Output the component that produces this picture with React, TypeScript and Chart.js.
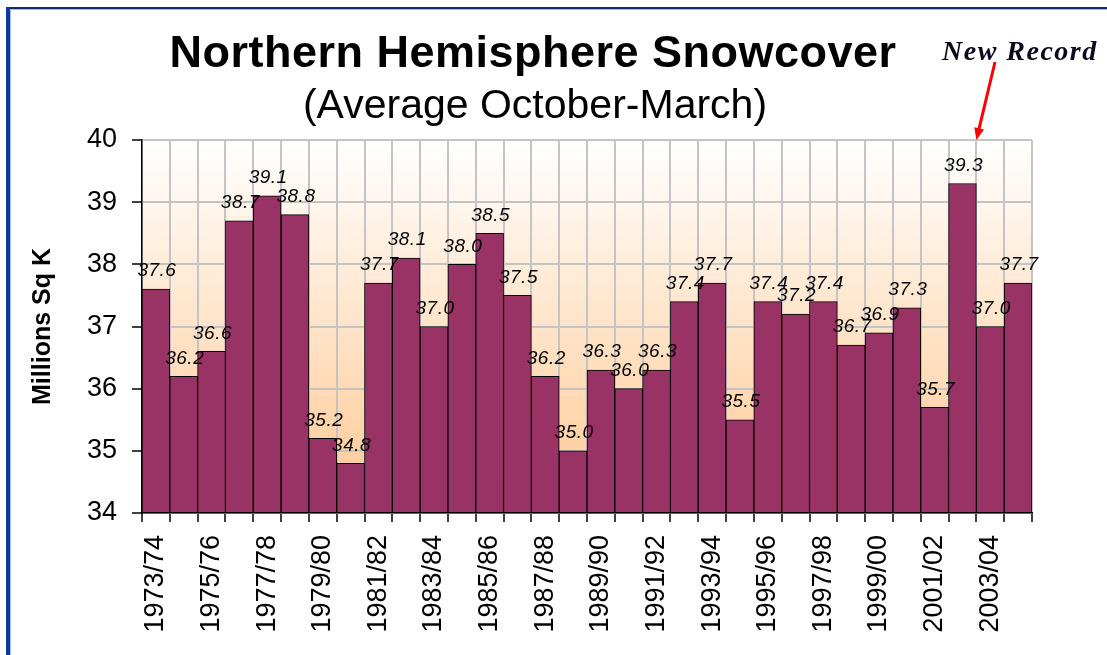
import React, { useEffect, useRef } from 'react';
import { Chart, registerables } from 'chart.js';

Chart.register(...registerables);

const seasons = [
  '1973/74', '1974/75', '1975/76', '1976/77', '1977/78', '1978/79', '1979/80', '1980/81',
  '1981/82', '1982/83', '1983/84', '1984/85', '1985/86', '1986/87', '1987/88', '1988/89',
  '1989/90', '1990/91', '1991/92', '1992/93', '1993/94', '1994/95', '1995/96', '1996/97',
  '1997/98', '1998/99', '1999/00', '2000/01', '2001/02', '2002/03', '2003/04', '2004/05',
];

const snowCover = [
  37.6, 36.2, 36.6, 38.7, 39.1, 38.8, 35.2, 34.8,
  37.7, 38.1, 37.0, 38.0, 38.5, 37.5, 36.2, 35.0,
  36.3, 36.0, 36.3, 37.4, 37.7, 35.5, 37.4, 37.2,
  37.4, 36.7, 36.9, 37.3, 35.7, 39.3, 37.0, 37.7,
];

const yMin = 34;
const yMax = 40;
const yStep = 1;

const titleText = 'Northern Hemisphere Snowcover';
const subtitleText = '(Average October-March)';
const yTitleText = 'Millions Sq K';
const noteText = 'New Record';
const recordIndex = 29;

const SANS = '"Liberation Sans", Arial, Helvetica, sans-serif';
const SERIF = '"Liberation Serif", "Times New Roman", serif';

const W = 1107;
const H = 655;

const decorPlugin = {
  id: 'decor',
  beforeDraw(chart: any) {
    const { ctx, chartArea } = chart;
    const { left, top, right, bottom } = chartArea;
    ctx.save();
    ctx.fillStyle = '#ffffff';
    ctx.fillRect(0, 0, W, H);
    const g = ctx.createLinearGradient(0, top, 0, bottom);
    g.addColorStop(0, '#ffffff');
    g.addColorStop(1, '#ffc891');
    ctx.fillStyle = g;
    ctx.fillRect(left, top, right - left, bottom - top);
    ctx.restore();
  },
  afterDatasetsDraw(chart: any) {
    const { ctx } = chart;
    const meta = chart.getDatasetMeta(0);
    ctx.save();
    ctx.fillStyle = '#000';
    ctx.font = `italic 19px ${SANS}`;
    (ctx as any).letterSpacing = '0.5px';
    ctx.textAlign = 'center';
    ctx.textBaseline = 'middle';
    meta.data.forEach((bar: any, i: number) => {
      const { x, y } = bar.getProps(['x', 'y'], true);
      ctx.fillText(snowCover[i].toFixed(1), x + 1, y - 18);
    });
    ctx.restore();
  },
  afterDraw(chart: any) {
    const { ctx } = chart;
    ctx.save();
    // frame
    ctx.fillStyle = '#14286e';
    ctx.fillRect(6, 7, W - 6, 2);
    ctx.fillStyle = '#0a38a6';
    ctx.fillRect(6, 7, 4, H - 7);
    ctx.fillStyle = '#a9bad9';
    ctx.fillRect(10, 9, W - 10, 1);
    ctx.fillRect(10, 9, 1, H - 9);

    // titles
    ctx.fillStyle = '#000';
    ctx.textAlign = 'center';
    ctx.textBaseline = 'alphabetic';
    ctx.font = `bold 45px ${SANS}`;
    (ctx as any).letterSpacing = '0.5px';
    ctx.fillText(titleText, 533, 67);
    ctx.font = `41px ${SANS}`;
    (ctx as any).letterSpacing = '0px';
    ctx.fillText(subtitleText, 535, 118);

    // note
    ctx.textAlign = 'left';
    ctx.font = `bold italic 28px ${SERIF}`;
    (ctx as any).letterSpacing = '1.5px';
    ctx.fillStyle = '#0a0a1e';
    ctx.fillText(noteText, 942, 60);

    // arrow pointing to the record bar
    const xs = chart.scales.x;
    const tipX = xs.getPixelForValue(recordIndex) + (xs.getPixelForValue(1) - xs.getPixelForValue(0)) / 2;
    const tipY = chart.chartArea.top;
    const startX = 995;
    const startY = 62;
    const ang = Math.atan2(tipY - startY, tipX - startX);
    ctx.strokeStyle = '#ff0000';
    ctx.fillStyle = '#ff0000';
    ctx.lineWidth = 3;
    ctx.beginPath();
    ctx.moveTo(startX, startY);
    ctx.lineTo(tipX - 8 * Math.cos(ang), tipY - 8 * Math.sin(ang));
    ctx.stroke();
    ctx.beginPath();
    ctx.moveTo(tipX, tipY);
    ctx.lineTo(tipX - 12 * Math.cos(ang) + 5 * Math.sin(ang), tipY - 12 * Math.sin(ang) - 5 * Math.cos(ang));
    ctx.lineTo(tipX - 12 * Math.cos(ang) - 5 * Math.sin(ang), tipY - 12 * Math.sin(ang) + 5 * Math.cos(ang));
    ctx.closePath();
    ctx.fill();
    ctx.restore();
  },
};

export default function App() {
  const ref = useRef<HTMLCanvasElement | null>(null);

  useEffect(() => {
    if (!ref.current) return;
    const chart = new Chart(ref.current, {
      type: 'bar',
      data: {
        labels: seasons,
        datasets: [
          {
            data: snowCover,
            base: yMin,
            backgroundColor: '#993366',
            borderColor: '#000000',
            borderWidth: 1,
            categoryPercentage: 1,
            barPercentage: 1,
          } as any,
        ],
      },
      options: {
        responsive: false,
        animation: false,
        layout: { padding: { left: 20, right: 75, top: 140, bottom: 0 } },
        plugins: {
          legend: { display: false },
          tooltip: { enabled: false },
          title: { display: false },
        },
        scales: {
          x: {
            grid: {
              color: '#c4c4c4',
              lineWidth: 2,
              tickColor: '#000',
              tickLength: 9,
              tickWidth: 1.5,
              offset: true,
            },
            border: { color: '#000', width: 1.5 },
            ticks: {
              autoSkip: false,
              maxRotation: 90,
              minRotation: 90,
              padding: 13,
              color: '#000',
              font: { family: SANS, size: 27 },
              callback: (_v: any, i: number) => (i % 2 === 0 ? seasons[i] : ''),
            },
            afterFit: (s: any) => {
              s.height = H - 513;
            },
          },
          y: {
            min: yMin,
            max: yMax,
            ticks: {
              stepSize: yStep,
              color: '#000',
              padding: 15,
              font: { family: SANS, size: 27 },
            },
            grid: {
              color: '#c4c4c4',
              lineWidth: 2,
              tickColor: '#000',
              tickLength: 10,
              tickWidth: 1.5,
            },
            border: { color: '#000', width: 1.5 },
            title: {
              display: true,
              text: yTitleText,
              color: '#000',
              font: { family: SANS, size: 25, weight: 'bold' },
              padding: { top: 8, bottom: 0 },
            },
            afterFit: (s: any) => {
              s.width = 122;
            },
          },
        },
      } as any,
      plugins: [decorPlugin],
    });
    return () => chart.destroy();
  }, []);

  return (
    <div style={{ position: 'fixed', left: 0, top: 0, width: W, height: H, background: '#fff' }}>
      <canvas ref={ref} width={W} height={H} style={{ display: 'block' }} />
    </div>
  );
}
